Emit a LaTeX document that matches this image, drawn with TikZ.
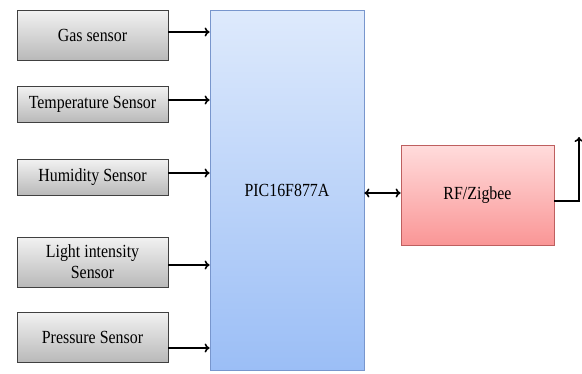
\documentclass[tikz,border=0pt]{standalone}
\usepackage{fontspec}
\setmainfont[FakeStretch=0.86]{Liberation Serif}
\usetikzlibrary{arrows.meta}

\definecolor{sensortop}{RGB}{242,242,242}
\definecolor{sensorbot}{RGB}{185,185,185}
\definecolor{pictop}{RGB}{222,234,252}
\definecolor{picbot}{RGB}{155,190,246}
\definecolor{picline}{RGB}{120,150,205}
\definecolor{rftop}{RGB}{255,220,220}
\definecolor{rfbot}{RGB}{250,150,150}
\definecolor{rfline}{RGB}{190,95,95}

\tikzset{
  sensor/.style={draw=black!75, line width=0.8pt, top color=sensortop, bottom color=sensorbot,
    minimum width=151pt, align=center, inner sep=0pt, font=\fontsize{18.5}{21}\selectfont},
  mcu/.style={draw=picline, line width=0.8pt, top color=pictop, bottom color=picbot,
    minimum width=154pt, minimum height=360pt, inner sep=0pt, font=\fontsize{18.5}{21}\selectfont},
  radio/.style={draw=rfline, line width=0.8pt, top color=rftop, bottom color=rfbot,
    minimum width=153pt, minimum height=100pt, inner sep=0pt, font=\fontsize{18.5}{21}\selectfont},
  link/.style={line width=1.6pt, -{To[length=5pt,width=9pt]}}
}

\begin{document}
\begin{tikzpicture}[x=1pt,y=-1pt]
            \useasboundingbox (0,0) rectangle (582,373);

            % sensors
            \node[sensor, minimum height=50pt] (gas) at (92.5,35) {Gas sensor};
            \node[sensor, minimum height=36pt] (temp) at (92.5,104) {Temperature Sensor};
            \node[sensor, minimum height=36pt] (hum) at (92.5,177) {Humidity Sensor};
            \node[sensor, minimum height=50pt] (light) at (92.5,262) {Light intensity\\Sensor};
            \node[sensor, minimum height=50pt] (pres) at (92.5,337) {Pressure Sensor};

            % controller and radio
            \node[mcu] (pic) at (287,190) {PIC16F877A};
            \node[radio] (rf) at (477.5,195) {RF/Zigbee};
            \coordinate (ant) at (579,137);

            \draw[link] ([yshift=3pt]gas.east) -- ([yshift=3pt]gas.east -| pic.west);
            \draw[link] ([yshift=4pt]temp.east) -- ([yshift=4pt]temp.east -| pic.west);
            \draw[link] ([yshift=4pt]hum.east) -- ([yshift=4pt]hum.east -| pic.west);
            \draw[link] ([yshift=-3pt]light.east) -- ([yshift=-3pt]light.east -| pic.west);
            \draw[link] ([yshift=-11pt]pres.east) -- ([yshift=-11pt]pres.east -| pic.west);

            \draw[link, {To[length=5pt,width=9pt]}-{To[length=5pt,width=9pt]}] ([yshift=-3pt]pic.east) -- ([yshift=-3pt]pic.east -| rf.west);
            \draw[link] ([yshift=-6pt]rf.east) -| (ant);
        \end{tikzpicture}
\end{document}
